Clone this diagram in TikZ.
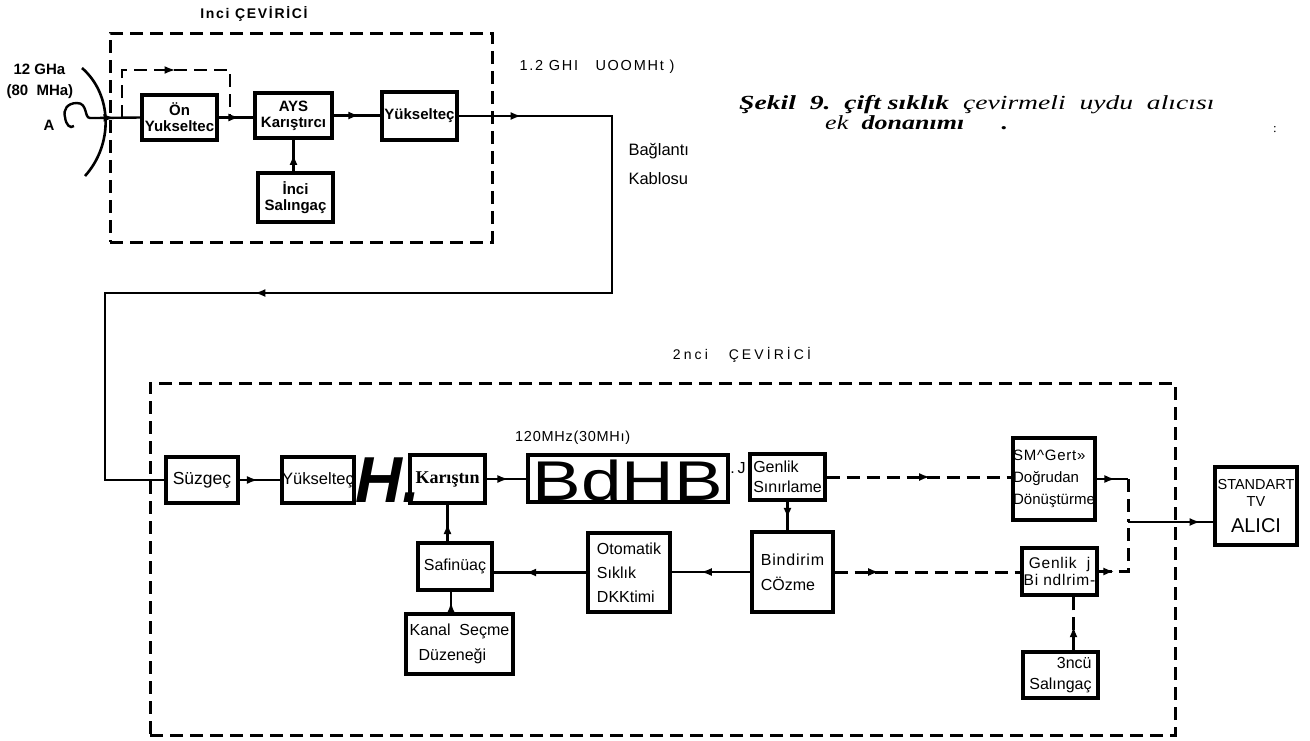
\documentclass[tikz,border=0pt]{standalone}
\usepackage{fontspec}
\usepackage{graphicx}
\setmainfont{Liberation Serif}
\newfontfamily\ars{Liberation Sans}
\newfontfamily\arss{Liberation Sans}[LetterSpace=5]
\newfontfamily\arsw{Liberation Sans}[LetterSpace=12]
\newfontfamily\arsv{Liberation Sans}[LetterSpace=22]
\usetikzlibrary{arrows.meta,decorations.markings}
\newcommand{\fsz}[1]{\fontsize{#1}{#1}\selectfont}
\tikzset{
  box/.style={draw, line width=3.2pt, inner sep=0pt, align=center},
  conn/.style={line width=2.4pt},
  dsh/.style={line width=3pt, dash pattern=on 13pt off 7pt},
  tip/.tip={Latex[length=11pt,width=8pt]},
  marr/.style={postaction={decorate, decoration={markings, mark=at position #1 with {\arrow{tip}}}}},
}
\begin{document}
\begin{tikzpicture}[x=1pt,y=-1pt]
\useasboundingbox (0,0) rectangle (1310,740);

% ---------- first converter ----------
\node[font=\arsw\bfseries\fsz{14}] (t1) at (254,14) {Inci ÇEVİRİCİ};
\node[draw, dsh, minimum width=382pt, minimum height=209pt] (conv1) at (301,137.5) {};

\node[font=\ars\bfseries\fsz{15}, anchor=west] (f1) at (10,69) {12 GHa};
\node[font=\ars\bfseries\fsz{15}, anchor=west] (f2) at (3,92) {(80\ \ MHa)};
\node[font=\ars\bfseries\fsz{15}] (la) at (49,125) {A};
\draw[line width=2.6pt] (82,68) .. controls (113,95) and (113,145) .. (85,176);
\draw[line width=2.4pt] (95,118) -- (90,118) .. controls (84,118) and (88,103) .. (77,103) .. controls (67,103) and (63,110) .. (65,117) .. controls (66,125) and (70,129) .. (74,126);

\node[box, font=\ars\bfseries\fsz{15}, minimum width=75pt, minimum height=45pt] (onyuk) at (179.5,117.5) {Ön\\[1pt]Yukseltec};
\node[box, font=\ars\bfseries\fsz{15}, minimum width=77pt, minimum height=45pt] (ays) at (293.5,115.5) {AYS\\[1pt]Karıştırcı};
\node[box, font=\ars\bfseries\fsz{15}, minimum width=75pt, minimum height=48pt] (yuk1) at (419.5,116) {Yükselteç};
\node[box, font=\ars\bfseries\fsz{15}, minimum width=75pt, minimum height=49pt] (sal1) at (295.5,197.5) {İnci\\[1pt]Salıngaç};

\coordinate (ant) at (95,118);
\draw[conn, marr=0.43] (ant) -- (onyuk.west);
\coordinate (fb1) at (122,118);
\coordinate (fb2) at (230,117);
\draw[dsh, line width=2.6pt, marr=0.5] (fb1) -- (122,70) -- (230,70) -- (fb2);
\draw[conn, marr=0.6] (onyuk.east) -- (ays.west |- onyuk.east);
\draw[conn, marr=0.55] (ays.east) -- (yuk1.west |- ays.east);
\draw[conn, marr=0.55] (ays.south |- sal1.north) -- (ays.south);

\node[font=\arsw\fsz{14.5}, anchor=west] (l12) at (516,67) {1.2 GHI\ \ \ UOOMHt )};
\node[font=\ars\fsz{16.5}, anchor=west] (lb1) at (625,151) {Bağlantı};
\node[font=\ars\fsz{16.5}, anchor=west] (lb2) at (625,179) {Kablosu};

% caption
\node[anchor=base west, font=\fsz{20}, inner sep=0pt] (cap1) at (739,109)
  {\scalebox{1.38}[1]{\textbf{\textit{Şekil\ \ 9.\ \ çift sıklık}}\ \ \textit{çevirmeli\ \ uydu\ \ alıcısı}}};
\node[anchor=base west, font=\fsz{20}, inner sep=0pt] (cap2) at (825,129)
  {\scalebox{1.3}[1]{\textit{ek}\ \ \textbf{\textit{donanımı}}\hspace{28pt}\textbf{.}}};
\node[font=\fsz{13}] (dots) at (1275,130) {:};

% ---------- second converter ----------
\node[font=\arsv\fsz{14}] (t2) at (742,355) {2nci\ \ \ ÇEVİRİCİ};
\node[draw, dsh, minimum width=1025pt, minimum height=352pt] (conv2) at (662.5,559) {};

\node[box, font=\ars\fsz{17.5}, minimum width=72pt, minimum height=46pt] (suz) at (202,480) {Süzgeç};
\node[box, font=\ars\fsz{16.5}, minimum width=72pt, minimum height=46pt] (yuk2) at (318,480) {Yükselteç};
\node[box, font=\bfseries\fsz{18}, minimum width=75pt, minimum height=48pt] (kar) at (447.5,479) {Karıştın};
\node[font=\ars\bfseries\itshape\fsz{65}] (hh) at (388,480) {H.};
\node[box, minimum width=200pt, minimum height=47pt] (bdhb) at (628,478.5) {};
\node[font=\ars\fsz{56}, inner sep=0pt] (bdt) at (628,480) {\scalebox{1.3}[1]{BdHB}};
\node[font=\ars\fsz{14.5}, anchor=west, inner sep=0pt] (f120) at (515,438) {\arss 120MHz(30MHı)};
\node[font=\ars\fsz{16}] (dj) at (738,468) {.\,J};
\node[box, font=\ars\fsz{16}, align=left, minimum width=75pt, minimum height=46pt] (gensin) at (787.5,477) {Genlik\\[4pt]Sınırlame};

\node[box, font=\ars\fsz{15}, align=left, minimum width=82pt, minimum height=82pt] (smg) at (1054,479) {{\arss SM\textasciicircum Gert»}\\[7pt]Doğrudan\\[7pt]Dönüştürme};
\node[box, font=\ars\fsz{14.5}, minimum width=82pt, minimum height=78pt] (std) at (1256,506) {STANDART\\[3pt]TV\\[11pt]{\fsz{20}ALICI}};
\node[box, font=\arss\fsz{15.5}, minimum width=75pt, minimum height=47pt] (genbin) at (1059.5,571.5) {Genlik\ \ j\\[2pt]Bi ndlrim-};
\node[box, font=\ars\fsz{16}, align=right, minimum width=75pt, minimum height=46pt] (sal3) at (1060.5,675) {3ncü\\[5pt]Salıngaç};

\node[box, font=\ars\fsz{16}, align=left, minimum width=81pt, minimum height=80pt] (bincoz) at (792.5,572) {{\arss Bindirim}\\[9pt]CÖzme};
\node[box, font=\ars\fsz{16}, align=left, minimum width=82pt, minimum height=79pt] (oto) at (629,572.5) {Otomatik\\[8pt]Sıklık\\[8pt]DKKtimi};
\node[box, font=\ars\fsz{16}, minimum width=74pt, minimum height=47pt] (saf) at (455,566.5) {Safinüaç};
\node[box, font=\ars\fsz{16}, align=left, minimum width=107pt, minimum height=60pt] (kanal) at (459.5,644) {Kanal\ \ Seçme\\[9pt]\ \ Düzeneği};

% cable
\coordinate (k1) at (612,116);
\coordinate (k2) at (612,293);
\coordinate (k3) at (105,293);
\coordinate (k4) at (105,480);
\draw[conn, line width=2.8pt, line join=miter, postaction={decorate, decoration={markings,
   mark=at position 63pt with {\arrow{tip}},
   mark=at position 688pt with {\arrow{tip}},
   mark=at position 1398pt with {\arrow{tip}}}}]
   (yuk1.east) -- (k1) -- (k2) -- (k3) -- (k4) -- (suz.west |- k4);

% connectors
\draw[conn, marr=0.45] (suz.east) -- (yuk2.west);
\draw[conn, marr=0.55] (kar.east) -- (kar.east -| bdhb.west);
\draw[dsh, marr=0.56] (gensin.east) -- (gensin.east -| smg.west);
\coordinate (j1) at (1128,522);
\draw[conn, marr=0.6] (smg.east) -- (smg.east -| j1);
\draw[dsh] (smg.east -| j1) -- (j1);
\draw[conn, marr=0.85] (j1) -- (std.west |- j1);
\draw[dsh, marr=0.2] (genbin.east) -- (genbin.east -| j1) -- (j1);
\draw[dsh, marr=0.45] ([xshift=13pt]sal3.north) -- ([xshift=13pt]sal3.north |- genbin.south);
\draw[conn, marr=0.6] (gensin.south) -- (gensin.south |- bincoz.north);
\draw[conn, marr=0.63] (bincoz.west) -- (bincoz.west -| oto.east);
\draw[conn, marr=0.66] (oto.west) -- (oto.west -| saf.east);
\draw[dsh, marr=0.24] (bincoz.east) -- (bincoz.east -| genbin.west);
\draw[conn, marr=0.5] (kar.south |- saf.north) -- (kar.south);
\draw[conn, marr=0.5] ([xshift=-4pt]saf.south |- kanal.north) -- ([xshift=-4pt]saf.south);
\end{tikzpicture}
\end{document}
